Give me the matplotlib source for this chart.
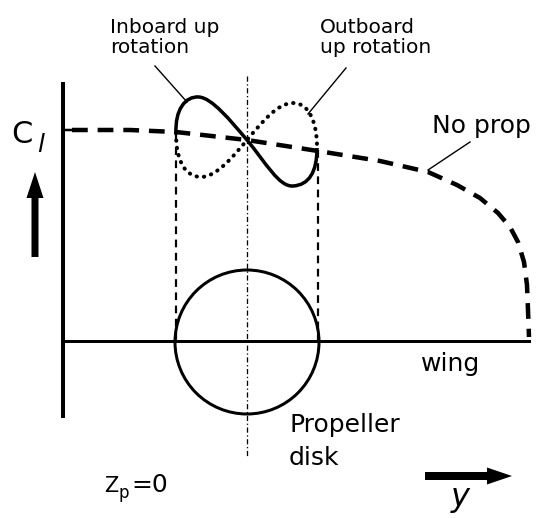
import matplotlib.pyplot as plt
from matplotlib.path import Path
from matplotlib.patches import PathPatch, Circle

W, H = 537, 518

# spanwise lift without propeller (pixel frame, y grows downward)
noprop_x = [72, 130, 176, 247, 318, 380, 428, 457, 480, 498, 510, 518, 524, 527, 528, 529]
noprop_y = [130, 130, 132, 140, 151, 161, 172, 185, 198, 213, 227, 242, 262, 285, 310, 337]

# figure-eight lift loops as cubic bezier vertices: start, then (c1, c2, end) per segment
inboard_pts = [(176, 133),
               (175, 110), (185, 96), (199, 97),
               (212, 98), (230, 120), (247, 140),
               (266, 163), (279, 187), (293, 186),
               (309, 185), (317, 172), (317, 148)]
outboard_pts = [(176, 133),
                (176, 162), (186, 177), (201, 177),
                (216, 177), (232, 158), (247, 140),
                (263, 121), (278, 103), (293, 103),
                (309, 103), (317, 122), (317, 147)]

wing_y = 341
disk_center = (247, 342)
disk_radius = 72

plt.rcParams['font.family'] = 'DejaVu Sans'
fig = plt.figure(figsize=(W / 100, H / 100), dpi=100)
ax = fig.add_axes([0, 0, 1, 1])
ax.set_xlim(0, W)
ax.set_ylim(H, 0)
ax.axis('off')

px = 0.72  # points per pixel

# C_l axis with tick
ax.plot([63, 63], [82, 418], color='black', lw=4 * px, solid_capstyle='butt')
ax.plot([63, 72], [130, 130], color='black', lw=2.5 * px)

# wing
ax.plot([63, 529], [wing_y, wing_y], color='black', lw=3 * px)

# propeller disk
ax.add_patch(Circle(disk_center, disk_radius, fill=False, ec='black', lw=3 * px))

# propeller axis and disk edges
ax.plot([247, 247], [76, 458], color='black', lw=1.3 * px, linestyle=(0, (4, 2, 1, 2)))
ax.plot([176, 176], [134, wing_y], color='black', lw=2.2 * px, linestyle=(0, (3.5, 2.5)))
ax.plot([318, 318], [150, wing_y], color='black', lw=2.2 * px, linestyle=(0, (3.5, 2.5)))

# no-prop distribution
ax.plot(noprop_x, noprop_y, color='black', lw=4.5 * px, linestyle=(0, (3.5, 2.2)))

codes = [Path.MOVETO] + [Path.CURVE4] * 12
ax.add_patch(PathPatch(Path(inboard_pts, codes), fill=False, ec='black', lw=3.5 * px))
ax.add_patch(PathPatch(Path(outboard_pts, codes), fill=False, ec='black', lw=4 * px,
                       linestyle=(0, (0.1, 1.75)), capstyle='round'))

# leaders
ax.plot([155, 187], [66, 102], color='black', lw=1)
ax.plot([346, 308], [68, 114], color='black', lw=1)
ax.plot([470, 428], [142, 170], color='black', lw=1)

# arrows
ax.arrow(35, 257, 0, -85, width=7, head_width=17, head_length=26,
         length_includes_head=True, color='black', lw=0)
ax.arrow(425, 476, 87, 0, width=8, head_width=17, head_length=25,
         length_includes_head=True, color='black', lw=0)

# labels
ax.text(110, 33, 'Inboard up', fontsize=14.5, va='baseline', ha='left')
ax.text(110, 53, 'rotation', fontsize=14.5, va='baseline', ha='left')
ax.text(320, 33, 'Outboard', fontsize=14.5, va='baseline', ha='left')
ax.text(320, 53, 'up rotation', fontsize=14.5, va='baseline', ha='left')
ax.text(432, 133, 'No prop', fontsize=18, va='baseline', ha='left')
ax.text(11, 143, 'C', fontsize=22, va='baseline', ha='left')
ax.text(37, 152, 'l', fontsize=18, va='baseline', ha='left', style='italic')
ax.text(421, 371, 'wing', fontsize=18, va='baseline', ha='left')
ax.text(289, 432, 'Propeller', fontsize=18, va='baseline', ha='left')
ax.text(289, 465, 'disk', fontsize=18, va='baseline', ha='left')
ax.text(104, 492, 'Z', fontsize=15, va='baseline', ha='left')
ax.text(119, 498, 'p', fontsize=12, va='baseline', ha='left')
ax.text(131, 492, '=0', fontsize=18, va='baseline', ha='left')
ax.text(451, 506, 'y', fontsize=23, va='baseline', ha='left', style='italic')

fig.savefig('out.png', dpi=100)
